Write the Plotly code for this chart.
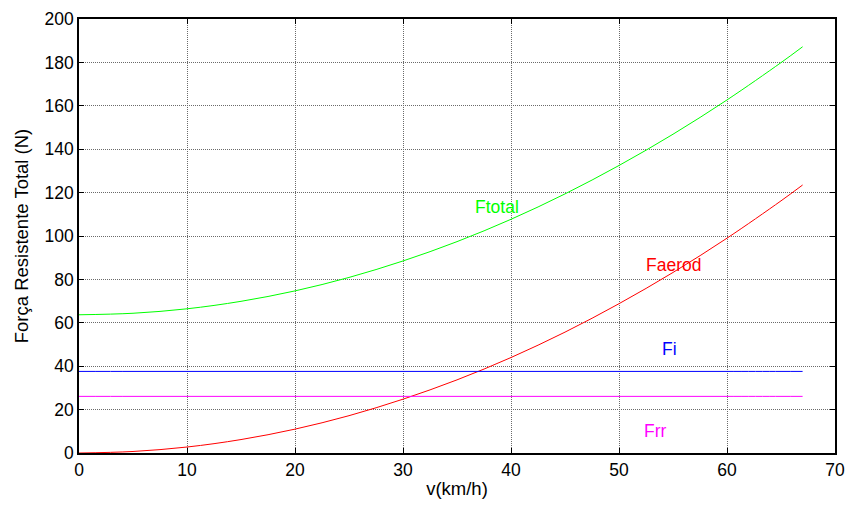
import plotly.graph_objects as go

# Speed samples (km/h) and the resistive forces (N) at each speed
v_kmh = [0, 5, 10, 15, 20, 25, 30, 35, 40, 45, 50, 55, 60, 65, 67]
f_aerod = [0, 0.7, 2.75, 6.2, 11.0, 17.2, 24.8, 33.7, 44.0, 55.7, 68.8, 83.2, 99.0, 116.2, 123.5]
f_i = [37.6] * len(v_kmh)
f_rr = [26.1] * len(v_kmh)
f_total = [63.7, 64.4, 66.45, 69.9, 74.7, 80.9, 88.5, 97.4, 107.7, 119.4, 132.5, 146.9, 162.7, 179.9, 187.2]

series = [
    ("Ftotal", f_total, "#00FF00"),
    ("Faerod", f_aerod, "#FF0000"),
    ("Fi", f_i, "#0000FF"),
    ("Frr", f_rr, "#FF00FF"),
]

# Curve labels placed beside each line
labels = [
    ("Ftotal", 38.7, 113.5, "#00FF00"),
    ("Faerod", 55.0, 86.6, "#FF0000"),
    ("Fi", 54.7, 47.9, "#0000FF"),
    ("Frr", 53.4, 10.1, "#FF00FF"),
]

FONT = "Liberation Sans"
FS = 17.5
TITLE_FS = 18.5

fig = go.Figure()
for name, ys, color in series:
    fig.add_trace(go.Scatter(
        x=v_kmh, y=ys, mode="lines", name=name,
        line=dict(color=color, width=1, shape="spline"),
        showlegend=False,
    ))

for text, x, y, color in labels:
    fig.add_annotation(x=x, y=y, text=text, showarrow=False,
                       font=dict(color=color, size=FS, family=FONT))

axis_common = dict(
    showline=True, linecolor="black", linewidth=1.5, mirror="allticks",
    ticks="inside", ticklen=5, tickcolor="black",
    showgrid=True, gridcolor="#6a6a6a", griddash="1px,1px", gridwidth=1,
    zeroline=False, automargin=False,
    tickfont=dict(size=FS, color="black", family=FONT),
)

fig.update_xaxes(range=[0, 70], dtick=10, title=dict(text="v(km/h)", standoff=3,
                 font=dict(size=TITLE_FS, color="black", family=FONT)), **axis_common)
fig.update_yaxes(range=[0, 200], dtick=20, title=dict(text="Força Resistente Total (N)", standoff=11,
                 font=dict(size=TITLE_FS, color="black", family=FONT)), **axis_common)

fig.update_layout(
    width=845, height=506,
    margin=dict(l=79, r=10, t=19, b=53),
    paper_bgcolor="white", plot_bgcolor="white",
)

fig.write_html("out.html")
